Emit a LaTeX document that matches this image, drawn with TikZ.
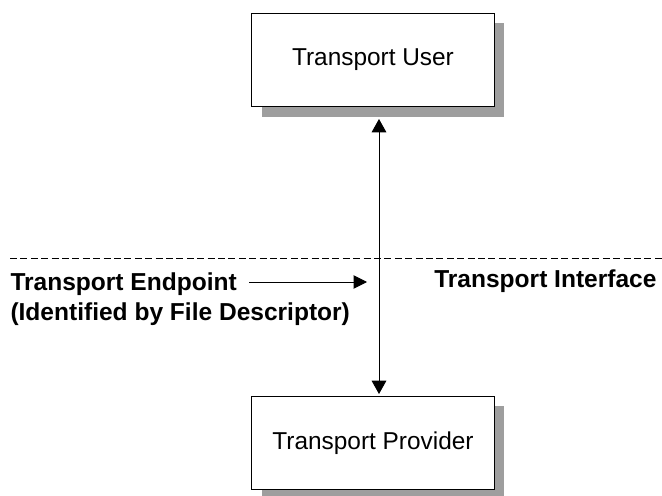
\documentclass[tikz,border=0pt]{standalone}
\usepackage{fontspec}
\setmainfont{Liberation Sans}
\usetikzlibrary{arrows.meta,shadows}

\begin{document}
\begin{tikzpicture}[x=0.75pt,y=-0.75pt,line width=0.75pt]

        \useasboundingbox (0,0) rectangle (662,496);

        \begin{scope}[every node/.style={draw,fill=white,minimum width=182pt,minimum height=70pt,
            font=\fontsize{18.3}{21}\selectfont,
            drop shadow={shadow xshift=7.5pt,shadow yshift=-7.5pt,fill=black!38,opacity=1}}]
          \node (user)  at (373,60)  {Transport User};
          \node (prov)  at (373,443) {Transport Provider};
        \end{scope}

        \coordinate (ut) at (379,119);
        \coordinate (pt) at (379,394);
        \coordinate (il) at (10,258);
        \coordinate (ir) at (662,258);
        \coordinate (ep) at (367,282);

        \begin{scope}[every node/.style={inner sep=0pt,font=\bfseries\fontsize{18.4}{22}\selectfont}]
          \node[anchor=base west] (endp)  at (10,290)  {Transport Endpoint};
          \node[anchor=base west] (desc)  at (10,320)  {(Identified by File Descriptor)};
          \node[anchor=base east] (iface) at (657,287) {Transport Interface};
        \end{scope}

        \draw[dash pattern=on 5.2pt off 2.6pt] (il) -- (ir);
        \draw[{Triangle[width=11pt,length=10pt]}-{Triangle[width=11pt,length=10pt]}] (ut) -- (pt);
        \draw[-{Triangle[width=10pt,length=10pt]}] ([xshift=9pt]endp.east |- ep) -- (ep);

      \end{tikzpicture}
\end{document}
